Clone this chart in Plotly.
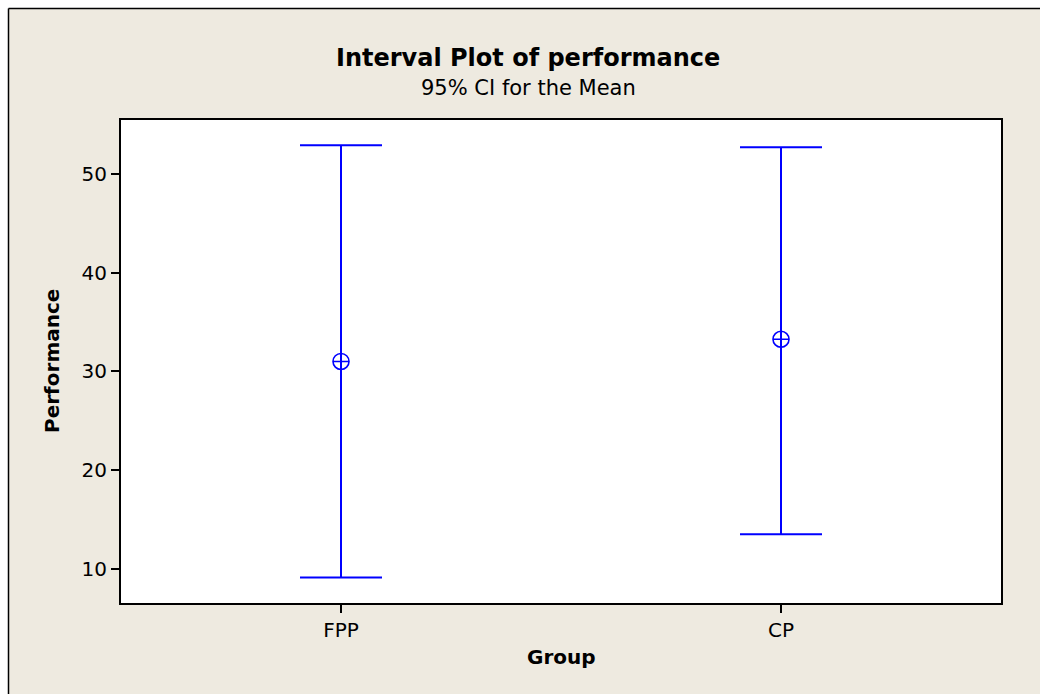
import plotly.graph_objects as go

groups = ["FPP", "CP"]
means = [31.0, 33.25]
upper = [52.9, 52.7]
lower = [9.1, 13.5]

err_plus = [u - m for u, m in zip(upper, means)]
err_minus = [m - l for m, l in zip(means, lower)]

BLUE = "#0000FF"
BG = "#EEEAE0"
FONT = "DejaVu Sans"

fig = go.Figure()
fig.add_trace(go.Scatter(
    x=groups, y=means, mode="markers",
    marker=dict(symbol="circle-cross-open", size=16, color=BLUE,
                line=dict(width=1.6, color=BLUE)),
    error_y=dict(type="data", symmetric=False, array=err_plus, arrayminus=err_minus,
                 color=BLUE, thickness=2, width=41),
    showlegend=False,
))

W, H = 1040, 694
L, R, T, B = 121, 39, 120, 91
pw, ph = W - L - R, H - T - B

def px(x):
    return (x - L) / pw

def py(y):
    return (H - B - y) / ph

fig.update_layout(
    width=W, height=H,
    margin=dict(l=L, r=R, t=T, b=B),
    paper_bgcolor=BG, plot_bgcolor="white",
    font=dict(family=FONT, color="black", size=20),
    xaxis=dict(type="category", range=[-0.5, 1.5], showgrid=False, zeroline=False,
               showline=True, linecolor="black", linewidth=2, mirror=True,
               ticks="outside", ticklen=8, tickwidth=2, tickcolor="black",
               tickfont=dict(size=20, family=FONT)),
    yaxis=dict(range=[6.52, 55.47], tickvals=[10, 20, 30, 40, 50], showgrid=False,
               zeroline=False, showline=True, linecolor="black", linewidth=2, mirror=True,
               ticks="outside", ticklen=8, tickwidth=2, tickcolor="black",
               tickfont=dict(size=20, family=FONT)),
    shapes=[
        dict(type="rect", xref="paper", yref="paper", x0=px(0), x1=px(W), y0=py(0), y1=py(8),
             fillcolor="white", line=dict(width=0), layer="below"),
        dict(type="rect", xref="paper", yref="paper", x0=px(0), x1=px(8), y0=py(0), y1=py(H),
             fillcolor="white", line=dict(width=0), layer="below"),
        dict(type="line", xref="paper", yref="paper", x0=px(8.5), x1=px(W), y0=py(8.5), y1=py(8.5),
             line=dict(color="black", width=1.5)),
        dict(type="line", xref="paper", yref="paper", x0=px(8.5), x1=px(8.5), y0=py(8.5), y1=py(H),
             line=dict(color="black", width=1.5)),
    ],
    annotations=[
        dict(text="<b>Interval Plot of performance</b>", xref="paper", yref="paper",
             x=px(528), y=py(58), xanchor="center", yanchor="middle", showarrow=False,
             font=dict(size=24, family=FONT)),
        dict(text="95% CI for the Mean", xref="paper", yref="paper",
             x=px(528), y=py(88), xanchor="center", yanchor="middle", showarrow=False,
             font=dict(size=21, family=FONT)),
        dict(text="<b>Performance</b>", xref="paper", yref="paper", textangle=-90,
             x=px(52), y=py(361), xanchor="center", yanchor="middle", showarrow=False,
             font=dict(size=20, family=FONT)),
        dict(text="<b>Group</b>", xref="paper", yref="paper",
             x=px(561), y=py(657), xanchor="center", yanchor="middle", showarrow=False,
             font=dict(size=20, family=FONT)),
    ],
)

fig.write_html(
    "out.html",
    config={"displayModeBar": False},
    post_script="document.body.style.margin='0';document.body.style.overflow='hidden';",
)
